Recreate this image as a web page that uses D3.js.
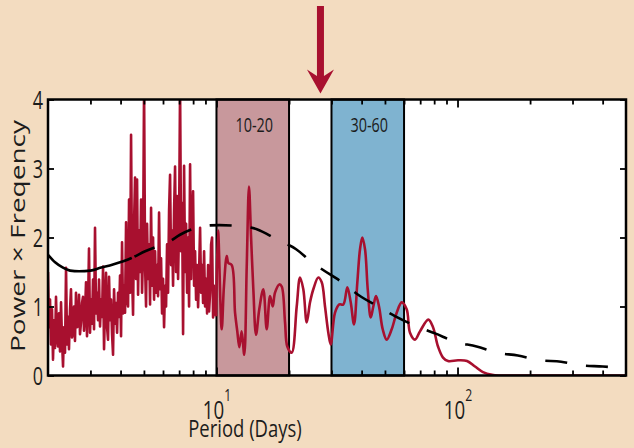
<!DOCTYPE html>
<html>
<head>
<meta charset="utf-8">
<script src="https://cdn.jsdelivr.net/npm/d3@7"></script>
<style>
  html, body { margin: 0; padding: 0; background: #f3dcc0; }
  svg { display: block; }
  text { font-family: 'Open Sans', 'DejaVu Sans', sans-serif; fill: #1c1c1c; }
</style>
</head>
<body>
<svg id="chart" width="634" height="448"></svg>
<script>
// Short-period part of the spectrum (2–10 days), densely sampled and noisy
const shortPeriods = [
  2.000,2.019,2.039,2.058,2.078,2.098,2.118,2.139,2.159,2.180,
  2.201,2.222,2.243,2.265,2.287,2.309,2.331,2.353,2.376,2.399,
  2.422,2.444,2.468,2.491,2.515,2.539,2.564,2.588,2.613,2.638,
  2.664,2.690,2.715,2.741,2.768,2.794,2.821,2.848,2.876,2.903,
  2.931,2.959,2.988,3.017,3.046,3.075,3.105,3.134,3.165,3.195,
  3.226,3.256,3.288,3.319,3.351,3.384,3.416,3.449,3.482,3.516,
  3.549,3.583,3.618,3.653,3.688,3.723,3.759,3.795,3.832,3.869,
  3.905,3.943,3.980,4.019,4.057,4.096,4.136,4.175,4.216,4.256,
  4.297,4.338,4.380,4.422,4.464,4.507,4.550,4.594,4.638,4.683,
  4.728,4.773,4.819,4.865,4.912,4.959,5.007,5.055,5.103,5.152,
  5.202,5.252,5.302,5.353,5.404,5.456,5.509,5.562,5.615,5.669,
  5.723,5.778,5.834,5.890,5.946,6.003,6.061,6.119,6.178,6.237,
  6.297,6.358,6.419,6.480,6.543,6.605,6.669,6.733,6.798,6.863,
  6.929,6.995,7.063,7.131,7.199,7.268,7.338,7.409,7.480,7.552,
  7.624,7.697,7.771,7.846,7.921,7.997,8.074,8.152,8.230,8.309,
  8.389,8.469,8.551,8.633,8.716,8.799,8.884,8.969,9.055,9.142,
  9.230,9.318,9.408,9.498,9.589,9.681,9.774,9.868,9.963
];
const shortPower = [
  1.50,0.70,1.10,0.45,0.96,0.23,0.80,0.40,1.14,0.55,
  0.42,0.90,0.35,1.06,0.50,0.13,0.70,0.33,1.56,0.45,
  0.85,0.38,0.95,1.25,0.55,0.62,1.00,0.50,1.20,0.70,
  0.71,1.17,0.60,0.77,1.05,1.14,0.65,0.90,1.35,0.57,
  1.00,1.84,0.62,1.10,0.75,1.39,0.67,2.14,0.90,1.20,
  0.80,1.39,0.71,1.10,0.85,1.58,0.38,1.00,1.49,0.70,
  0.52,1.43,0.80,1.10,0.60,0.30,1.25,0.75,1.05,0.62,
  1.20,0.85,1.45,0.57,1.93,0.90,1.30,0.91,2.22,1.10,
  1.00,2.55,1.20,3.49,1.50,0.88,2.20,2.87,1.40,2.84,
  1.17,2.10,1.50,2.55,1.20,1.80,4.20,1.60,1.00,2.20,
  1.40,1.90,1.03,2.43,1.30,2.00,1.10,1.80,1.20,1.60,
  1.15,2.36,1.25,1.70,0.90,1.40,0.70,1.30,1.00,1.90,
  1.20,2.40,2.91,1.60,2.10,1.30,2.40,3.03,1.50,2.60,
  1.40,2.20,4.20,1.80,2.50,0.60,3.04,1.50,2.20,1.20,
  2.00,1.00,3.06,1.40,2.20,2.67,1.30,1.80,1.10,1.60,
  0.99,1.50,2.14,1.20,1.60,1.05,1.80,1.00,1.40,0.90,
  1.60,0.93,1.20,1.90,2.00,0.84,1.30,0.90,0.86
];

// Long-period part (10–500 days), smooth oscillations
const longPeriods = [
  10.15,10.51,10.74,11.03,11.20,11.57,11.94,12.20,12.44,12.72,
  13.04,13.35,13.64,13.91,14.22,14.59,15.05,15.64,16.16,16.68,
  17.11,17.49,18.23,18.65,19.25,19.67,20.51,21.52,22.21,22.92,
  23.68,24.44,25.22,26.45,27.33,28.20,29.11,29.78,31.03,32.33,
  33.59,34.90,36.05,37.21,38.40,39.40,40.27,41.33,42.41,43.64,
  44.74,45.90,47.24,48.94,50.84,53.32,55.93,58.67,61.53,63.51,
  66.61,69.87,75.66,79.13,83.00,87.06,91.32,100.5,109.5,118.2,
  127.5,139.0,150,200,300,400,500
];
const longPower = [
  2.10,0.67,1.30,1.73,1.63,1.60,0.91,0.64,0.41,0.64,
  0.30,1.58,2.74,2.02,1.25,0.59,0.96,1.25,0.67,1.15,
  1.00,1.20,1.32,1.29,0.77,0.42,0.33,1.00,1.42,1.25,
  0.77,1.06,1.25,1.42,1.35,1.00,0.62,0.45,0.91,1.03,
  1.03,1.28,1.06,0.74,1.35,1.83,2.00,1.83,1.25,0.84,
  1.00,1.15,1.00,0.67,0.52,0.67,0.91,1.06,0.96,0.62,
  0.52,0.64,0.81,0.70,0.42,0.26,0.21,0.22,0.21,0.13,
  0.05,0.01,0,0,0,0,0
];

// Background (red-noise) significance curve
const trendPeriods = [2.0,2.14,2.29,2.47,2.69,3.0,3.29,3.72,4.42,5.06,5.67,6.30,7.06,7.92,8.97,
  10.3,12.05,14.7,17.8,21.4,24.9,27.4,33.2,38.7,46.8,55.0,67.9,80.7,97.6,120,146,178,220,269,329,401,500];
const trendPower = [1.75,1.64,1.57,1.52,1.51,1.52,1.56,1.61,1.70,1.80,1.87,1.93,2.04,2.12,2.17,
  2.18,2.17,2.12,1.97,1.83,1.64,1.54,1.35,1.17,1.00,0.86,0.71,0.61,0.49,0.42,0.33,0.29,0.22,0.20,0.145,0.13,0.10];

// Highlighted period bands
const bandLabels = ["10-20", "30-60"];
const bandStart  = [10, 30];
const bandEnd    = [20, 60];
const bandColors = ["#c8989c", "#7fb3d0"];

// Axis ticks
const yTicks = [0, 1, 2, 3, 4];
const xMajorTicks = [10, 100];
const xMinorTicks = [3, 4, 5, 6, 7, 8, 9, 20, 30, 40, 50, 60, 70, 80, 90, 200, 300, 400];
const xLabel = "Period (Days)";
const yLabel = "Power \u00d7 Freqency";
const arrowPeriod = 27;

const svg = d3.select("#chart");
const W = 634, H = 448;
const pLeft = 48, pRight = 626, pTop = 99.5, pBottom = 375.5;
const SX = 0.72;           // horizontal squeeze of the lettering
const red = "#a8102f";

const x = d3.scaleLog().domain([2, 500]).range([pLeft, pRight]);
const y = d3.scaleLinear().domain([0, 4]).range([pBottom, pTop]);

svg.append("rect").attr("width", W).attr("height", H).attr("fill", "#f3dcc0");
svg.append("rect").attr("x", pLeft).attr("y", pTop)
  .attr("width", pRight - pLeft).attr("height", pBottom - pTop).attr("fill", "#fff");

svg.append("clipPath").attr("id", "plot-clip").append("rect")
  .attr("x", pLeft).attr("y", pTop).attr("width", pRight - pLeft).attr("height", pBottom - pTop);

// bands
const bands = bandLabels.map((l, i) => ({ label: l, from: bandStart[i], to: bandEnd[i], color: bandColors[i] }));
svg.append("g").selectAll("rect").data(bands).join("rect")
  .attr("x", d => x(d.from)).attr("y", pTop)
  .attr("width", d => x(d.to) - x(d.from)).attr("height", pBottom - pTop)
  .attr("fill", d => d.color).attr("stroke", "#000").attr("stroke-width", 2);

svg.append("g").selectAll("text").data(bands).join("text")
  .attr("text-anchor", "middle")
  .attr("font-size", 20)
  .attr("transform", d => `translate(${(x(d.from) + x(d.to)) / 2 + 1.5},132) scale(${SX},1)`)
  .text(d => d.label);

// spectrum
const plot = svg.append("g").attr("clip-path", "url(#plot-clip)");
const shortSeries = shortPeriods.map((p, i) => [p, shortPower[i]]);
const longSeries = [shortSeries[shortSeries.length - 1]].concat(longPeriods.map((p, i) => [p, longPower[i]]));

plot.append("path").datum(shortSeries)
  .attr("fill", "none").attr("stroke", red).attr("stroke-width", 2.6)
  .attr("stroke-linejoin", "round")
  .attr("d", d3.line().x(d => x(d[0])).y(d => y(d[1])));
plot.append("path").datum(longSeries)
  .attr("fill", "none").attr("stroke", red).attr("stroke-width", 2.6)
  .attr("stroke-linejoin", "round")
  .attr("d", d3.line().curve(d3.curveCatmullRom.alpha(0.5)).x(d => x(d[0])).y(d => y(d[1])));

// background curve: continuous at short periods, dashed beyond
const trend = plot.append("path").datum(trendPeriods.map((p, i) => [p, trendPower[i]]))
  .attr("fill", "none").attr("stroke", "#000").attr("stroke-width", 2.6)
  .attr("d", d3.line().curve(d3.curveMonotoneX).x(d => x(d[0])).y(d => y(d[1])));
{
  const node = trend.node();
  const total = node.getTotalLength();
  const xSolidEnd = x(4.45);
  let lo = 0, hi = total;
  for (let k = 0; k < 40; k++) {
    const mid = (lo + hi) / 2;
    if (node.getPointAtLength(mid).x < xSolidEnd) lo = mid; else hi = mid;
  }
  const pattern = [lo, 3];
  let acc = lo + 3;
  while (acc < total + 50) { pattern.push(22, 19); acc += 41; }
  trend.attr("stroke-dasharray", pattern.join(","));
}

// axes
function clean(g) { g.select(".domain").remove(); g.selectAll("line").attr("stroke", "#000").attr("stroke-width", 1.8); }

const bottomMajor = svg.append("g").attr("transform", `translate(0,${pBottom})`)
  .call(d3.axisBottom(x).tickValues(xMajorTicks).tickSize(-8).tickFormat(""));
clean(bottomMajor);
bottomMajor.selectAll(".tick text").each(function (d) {
  const t = d3.select(this);
  t.attr("y", null).attr("dy", null).attr("font-size", 26).attr("fill", "#1c1c1c")
    .attr("font-family", "'Open Sans', sans-serif")
    .attr("transform", `translate(0,43) scale(${SX},1)`);
  t.append("tspan").text("10");
  t.append("tspan").attr("dy", -18).attr("font-size", 17).text(Math.round(Math.log10(d)));
});
svg.append("g").attr("transform", `translate(0,${pBottom})`)
  .call(d3.axisBottom(x).tickValues(xMinorTicks).tickSize(-5).tickFormat("")).call(clean);
svg.append("g").attr("transform", `translate(0,${pTop})`)
  .call(d3.axisTop(x).tickValues(xMajorTicks).tickSize(-8).tickFormat("")).call(clean);
svg.append("g").attr("transform", `translate(0,${pTop})`)
  .call(d3.axisTop(x).tickValues(xMinorTicks).tickSize(-5).tickFormat("")).call(clean);

const leftAxis = svg.append("g").attr("transform", `translate(${pLeft},0)`)
  .call(d3.axisLeft(y).tickValues(yTicks).tickSize(-6).tickFormat(d3.format("d")));
clean(leftAxis);
leftAxis.selectAll(".tick text")
  .attr("x", null).attr("dy", "0.36em").attr("font-size", 25).attr("fill", "#1c1c1c")
  .attr("font-family", "'Open Sans', sans-serif")
  .attr("transform", `translate(-5,0) scale(${SX},1)`);
svg.append("g").attr("transform", `translate(${pRight},0)`)
  .call(d3.axisRight(y).tickValues(yTicks).tickSize(-6).tickFormat("")).call(clean);

svg.append("rect").attr("x", pLeft).attr("y", pTop)
  .attr("width", pRight - pLeft).attr("height", pBottom - pTop)
  .attr("fill", "none").attr("stroke", "#000").attr("stroke-width", 2.5);

// axis titles
svg.append("text").attr("text-anchor", "middle").attr("font-size", 24)
  .attr("transform", `translate(245,437) scale(0.77,1)`).text(xLabel);
svg.append("text").attr("text-anchor", "middle").attr("font-size", 28)
  .attr("transform", `translate(25,236) scale(${SX},1) rotate(-90)`).text(yLabel);

// arrow marking the gap between the two bands
const ax = x(arrowPeriod);
const arrow = svg.append("g").attr("fill", red);
arrow.append("rect").attr("x", ax - 3.5).attr("y", 6).attr("width", 7).attr("height", 72);
arrow.append("path").attr("d",
  `M${ax},93.5 L${ax - 13.5},69.5 L${ax - 3.5},76 L${ax + 3.5},76 L${ax + 13.5},69.5 Z`);
</script>
</body>
</html>
